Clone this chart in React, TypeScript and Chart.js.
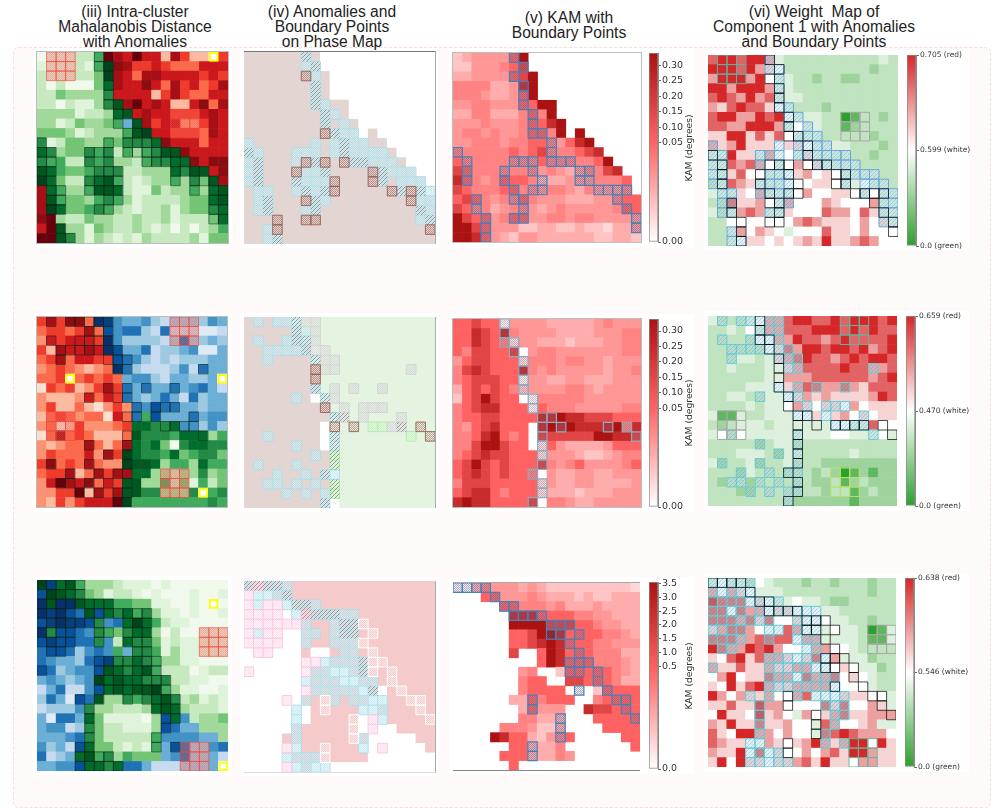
import { useEffect, useRef } from 'react';
import { Chart, registerables } from 'chart.js';
Chart.register(...registerables);

// Level codes: digits = Greens, lowercase = Reds, uppercase = Blues
const mahal1 = ["0111225jhgjggchfccaf","11112159ihffgfeeeggg","21112249hgehhggggfgf","20200047hggigehfgefh","22433336ggggcfhfeegg","220211368hjghgccgieh","3333122378ghggfffghg","331243345E8hfggddfhg","444312333589ggfffehg","6124433546667igggegg","763446562535688igggg","6552265633256677igii","875445666223337688gi","9742267852123353648h","h7533588721142335378","h8544356531222234478","h9744565321223134467","ij322433223223122247","gj833143223212020235","jj863132121322223144"];
const kam1 = ["23444469            ","22444567            ","334444679           ","555533489           ","555433469           ","44554446699         ","33553335659         ","444544456689        ","455454456659 9      ","445554556654689     ","5555556567555678    ","65555555565555569   ","765555555454345578  ","8654566653334445556 ","7655566554554354445 ","67654556544433344566","76553455434544444566","97664566445545544444","99764442233223221334","99864324433333322332"];
const weight1 = ["89989974333333333343","99989765333333333233","79997954433233223333","99799974433333333333","89879784443333333333","76898865433323333333","89977989544433013323","88779997454433123333","66996868544433333233","76796665665444433323","44966475546444433233","44878754575644443333","44685544567565444433","34876444555665445443","44465744457556654544","33866754755576555744","43478744655587758644","33555555578766657564","33475765455586657555","33456656567696678755"];
const mask1 = ["......b.............","......ab............","......ca............",".......b............",".......b............",".......ba...........","........ba..........","........b.a.........","........cbaa........","a......a.abaa.......","ba...aaa.abaaaa.....","ab...acbc.cbbaaa....","ab...caab....cbaaa..","ab...baaac...cb.aaa.",".aa..ababc.....cbcba",".ab...cba........caa",".ab...ab..........ba","...c..cc..........ab","..ac...............c","..ab................"];
const clusters1 = [[0, 1], [6, 14]];
const yellow1 = [[0, 18]];

const mahal2 = ["fhfiieJIFEEFDCDDDDFE","effefheHFGGDCGCCCBBC","dgfgggfJFDDDDCDGDDED","fchgghgJHEEGCDDEFBBE","efheggffHGFDCDCDDDEE","defedcdeJGDCCCDFCGEE","eefaefefeEFFDCEEDDEa","bfefcdfhfGEGEEGEFGEC","dcccdgegfGEDEGECGDEE","dfccecbdfdGFHGGEEDEE","cefedeebgeG5HEEEGEFF","debcfdddef77667FFDFD","behefeccce8666577735","dcdeeheceh7674067766","dfeeegdhf97665745664","fiefehedd98873553755","effhcehfhh7733233634","dgjhgiegf88335241524","ddffjchfh88663336a56","dcfdfgggj95555555565"];
const kam2 = ["66766044443333345444","66876854444333344455","66876514433323334455","6577667 455444444455","46776661555455443444","57876668545444443445","56777660443344333444","36767652444455434444","2679766 055555444444","56788666065554444455","56677666688988777666","54678666 89898888958","55689656 77777799887","55799766 16433334666","56787766614443223455","67976766675456444456","678767665 4334433444","57776666614334433334","67886566613332333444","898866667 5543344444"];
const weight2 = ["43334577899889899989","33435477888999898988","33333557798878988889","33333356879989989789","33344346789887898998","33433344678888988778","33333344777888888789","33334445678877876888","33443344567676666798","33334344576566575666","41143344455656756566","32344434444445544855","45354444444445544454","33333234433333333333","33344432443333343333","42334233433322222222","33324333333232012122","32332333333223123222","33322333333323312322","33333333322222212222"];
const mask2 = [".a.aabaa............",".....baa............",".a..abba............","..aaaabaa...........","..a....baa..........",".......caa.......a..",".......c............",".......b.a.a..a.....",".....a..ba..........","........c.a.aaa.....",".........bb.a...a...",".........c.c.dddb.c.","..a......b.......a.c",".....a...b..........",".......a.b..........",".a...a...b..........","...a..a.ba..........","..aa.a.a.b..........","....a.a.ab..........","........b..........."];
const phaseEdge2 = [5, 6, 6, 7, 7, 8, 8, 8, 8, 9, 9, 9, 9, 9, 9, 9, 9, 9, 9, 10];
const clusters2 = [[0, 14], [10, 1], [16, 13]];
const yellow2 = [[6, 3], [6, 19], [18, 17]];

const mahal3 = ["9I785333211101000000","H9876431221010001001","J8JJ8777554411001000","JIJHG8H7675631101001","HIJIIH6FG79752110000","J6HHGF65467730200111","HIHHGG6F276641211111","GHHGDFGF5E6651311111","GFEEDGHI667653311000","HGDEFFH8767852220122","EFEDEF97877666221100","CEGCCFH7878895311001","DGEBHG83365678623121","CDDDF633222378732221","EBGGE74111103H7F2334","EFFCD64221113HGEE333","EEEFG64222225FFFFEE3","FDECH74421215EHGDDFG","GCDE785635444EFGDDEC","EEFFH7767GGECCCDDDEA"];
const kam3 = ["00354443432222222221","   66444543332322333","     665554533343333","      88866665544333","      99997776654433","      66799866665543","      66789866655444","      7  69866655533","         69866655543","       45  266666543","       566  77666533","       56666 0 26666","      3365666  56666","       36444  877666","       55333   66666","     5554223    6666","    986632456     66","      663335       6","     66633354       ","      6             "];
const weight3 = ["45443543332332333233","75765444333333333233","98885654454432233333","88587756655544333333","88878685565554433233","67887555875545443014","88877888857744443114","98779897555775543333","65896877656857444233","76686676677555654423","57956687758778565433","65968976677775555433","97576675578555666554","66866977555586855764","59665967547567866777","76966866755487556744","86599775755488987775","87665576567976799596","76695856557578699766","69596656678696657766"];
const mask3 = ["bbbba...............","aaaab...............","aaaaabba............","aaaa.abbbbaa........","aaaaaaa..abbc.......","aaaa..aa.abb.c......","aaaa..a..aaac.......",".aa.......aa.c......","......aaaaaabcc.....","a.....aaaaaabc.c....","......aaaaaaaa.c....","......aaaaaaab..c...","....a.a.ca.aaaa..cc.",".....a..c...aaa...c.",".....a.....c.aa....c",".....a.....c.a......",".....a.....ca.......","....aa..c...a.a.....","....aaaac...........","....aaaaa..........."];
const clusters3 = [[5, 17], [17, 15]];
const yellow3 = [[2, 18], [19, 19]];

const kamTicks12 = [0, 0.05, 0.1, 0.15, 0.2, 0.25, 0.3];
const kamLabels12 = ["0.00", "0.05", "0.10", "0.15", "0.20", "0.25", "0.30"];
const kamTicks3 = [0, 0.5, 1, 1.5, 2, 2.5, 3, 3.5];
const kamLabels3 = ["0.0", "0.5", "1.0", "1.5", "2.0", "2.5", "3.0", "3.5"];
const weightLabels1 = ["0.0 (green)", "0.599 (white)", "0.705 (red)"];
const weightLabels2 = ["0.0 (green)", "0.470 (white)", "0.659 (red)"];
const weightLabels3 = ["0.0 (green)", "0.546 (white)", "0.638 (red)"];

const GREENS = ["#f0f9ec", "#e0f3db", "#c7e9c0", "#a1d99b", "#74c476", "#41ab5d", "#238b45", "#006d2c", "#00571f", "#00441b"];
const REDS = ["#fff5f0", "#fee0d2", "#fcbba1", "#fc9272", "#fb6a4a", "#ef3b2c", "#cb181d", "#a50f15", "#8b0d12", "#67000d"];
const BLUES = ["#f7fbff", "#deebf7", "#c6dbef", "#9ecae1", "#6baed6", "#4292c6", "#2171b5", "#08519c", "#08407f", "#08306b"];
const KAM_LEVELS = [0.05, 0.13, 0.2, 0.28, 0.35, 0.42, 0.53, 0.7, 0.85, 1];
const WEIGHT_LEVELS = [0, 0.12, 0.27, 0.35, 0.42, 0.5, 0.6, 0.72, 0.86, 1];
const KAM_STOPS: [number, string][] = [[0, "#ffffff"], [0.53, "#ff6262"], [1, "#ab1212"]];
const WEIGHT_STOPS: [number, string][] = [[0, "#2ca02c"], [0.5, "#ffffff"], [1, "#d62728"]];

const hex = (s: string) => [1, 3, 5].map((i) => parseInt(s.slice(i, i + 2), 16));
function ramp(stops: [number, string][], t: number) {
  for (let i = 1; i < stops.length; i++) {
    if (t <= stops[i][0]) {
      const f = (t - stops[i - 1][0]) / (stops[i][0] - stops[i - 1][0]);
      const a = hex(stops[i - 1][1]), b = hex(stops[i][1]);
      return `rgb(${a.map((v, k) => Math.round(v + (b[k] - v) * f)).join(",")})`;
    }
  }
  return stops[stops.length - 1][1];
}
function family(ch: string) {
  if (ch >= "0" && ch <= "9") return "green";
  if (ch >= "a" && ch <= "j") return "red";
  return "blue";
}
function mahalColor(ch: string) {
  const f = family(ch);
  if (f === "green") return GREENS[+ch];
  if (f === "red") return REDS[ch.charCodeAt(0) - 97];
  return BLUES[ch.charCodeAt(0) - 65];
}
function pattern(color: string, kind: "dots" | "hatch") {
  const c = document.createElement("canvas");
  const n = kind === "dots" ? 2 : 4;
  c.width = c.height = n;
  const g = c.getContext("2d")!;
  g.fillStyle = color;
  if (kind === "dots") { g.fillRect(0, 0, 1, 1); g.fillRect(1, 1, 1, 1); }
  else for (let i = 0; i < 4; i++) g.fillRect(i, 3 - i, 1, 1);
  return g.createPattern(c, "repeat");
}

type Cell = [number, number];
type Layer = { cells: Cell[]; fill: any; border?: string; bw?: number; inset?: number; bleed?: number };

function allCells(rows: string[], pick: (ch: string) => boolean) {
  const out: Cell[] = [];
  rows.forEach((row, r) => { for (let c = 0; c < row.length; c++) if (pick(row[c])) out.push([r, c]); });
  return out;
}
const block = (list: number[][]) => list.flatMap(([r, c]) => {
  const out: Cell[] = [];
  for (let i = 0; i < 3; i++) for (let j = 0; j < 3; j++) out.push([r + i, c + j]);
  return out;
});
const isAnomaly = (m: string) => m === "a" || m === "b" || m === "d";

function mahalLayers(rows: string[], mask: string[], clusters: number[][], yellow: number[][]): Layer[] {
  const base = allCells(rows, () => true);
  return [
    { cells: base, fill: base.map(([r, c]) => mahalColor(rows[r][c])), bleed: 0.3 },
    { cells: allCells(mask, isAnomaly), fill: "rgba(0,0,0,0)", border: "rgba(8,35,22,0.52)", bw: 1 },
    { cells: block(clusters), fill: "rgba(245,90,80,0.22)", border: "rgba(238,70,60,0.62)", bw: 1 },
    { cells: block(clusters), fill: pattern("rgba(245,90,80,0.3)", "dots") },
    { cells: yellow as Cell[], fill: "#ffffff", border: "#ffff10", bw: 2, inset: 1 },
  ];
}

function phaseLayers(rows: string[], mask: string[], mahal: string[], baseFill: (r: number, c: number) => string, tints: Record<string, [string, string]>, brown: [string, string]): Layer[] {
  const base = allCells(rows, () => true);
  const layers: Layer[] = [{ cells: base, fill: base.map(([r, c]) => baseFill(r, c)), bleed: 0.3 }];
  for (const f of Object.keys(tints)) {
    const cells = allCells(mask, isAnomaly).filter(([r, c]) => family(mahal[r][c]) === f);
    layers.push({ cells, fill: tints[f][0], border: tints[f][1], bw: 1 });
    layers.push({ cells, fill: pattern("rgba(255,255,255,0.4)", "dots") });
  }
  layers.push({ cells: allCells(mask, (m) => m === "b"), fill: pattern("rgba(105,105,105,0.6)", "hatch") });
  const bc = allCells(mask, (m) => m === "c");
  layers.push({ cells: bc, fill: pattern(brown[0], "dots"), border: brown[1], bw: 1 });
  return layers;
}

function kamLayers(rows: string[], mask: string[], border: string, dots: string): Layer[] {
  const base = allCells(rows, (ch) => ch !== " ");
  return [
    { cells: base, fill: base.map(([r, c]) => ramp(KAM_STOPS, KAM_LEVELS[+rows[r][c]])), bleed: 0.3 },
    { cells: allCells(mask, (m) => m === "b" || m === "c"), fill: pattern(dots, "dots"), border, bw: 1.2 },
  ];
}

function weightLayers(rows: string[], mask: string[], clusters: number[][], clusterColors: string[], tint: string): Layer[] {
  const base = allCells(rows, () => true);
  const layers: Layer[] = [{ cells: base, fill: base.map(([r, c]) => ramp(WEIGHT_STOPS, WEIGHT_LEVELS[+rows[r][c]])), bleed: 0.3 }];
  const anomalies = allCells(mask, isAnomaly);
  layers.push({ cells: anomalies, fill: "rgba(160,212,232,0.32)", border: tint, bw: 1 });
  layers.push({ cells: anomalies, fill: pattern("rgba(80,125,160,0.28)", "hatch") });
  layers.push({ cells: allCells(mask, (m) => m === "b" || m === "c" || m === "d"), fill: "rgba(0,0,0,0)", border: "rgba(0,0,0,0.7)", bw: 1 });
  clusters.forEach((c, i) => layers.push({ cells: block([c]), fill: "rgba(0,0,0,0)", border: clusterColors[i], bw: 1 }));
  return layers;
}

const phase1 = (r: number, c: number) => (kam1[r][c] === " " ? "#ffffff" : "#e2d5d2");
const phase2 = (r: number, c: number) => (kam2[r][c] === " " ? "#ffffff" : c < phaseEdge2[r] ? "#e2d5d2" : "#e4f4e1");
const phase3 = (r: number, c: number) => (kam3[r][c] === " " ? "#ffffff" : "#f4caca");

function Heat({ x, y, w, h, build, frame }: { x: number; y: number; w: number; h: number; build: () => Layer[]; frame?: any }) {
  const ref = useRef<HTMLCanvasElement>(null);
  useEffect(() => {
    const size = (w + h) / 40;
    const datasets = build().reverse().map((l) => ({
      data: l.cells.map(([r, c]) => ({ x: c + 0.5, y: r + 0.5 })),
      pointStyle: "rect",
      pointRadius: (size / 2 + (l.bleed || 0) - (l.inset || 0)) * Math.SQRT2,
      pointBackgroundColor: l.fill,
      pointBorderColor: l.border || "rgba(0,0,0,0)",
      pointBorderWidth: l.bw || 0,
    }));
    const chart = new Chart(ref.current!, {
      type: "scatter",
      data: { datasets } as any,
      options: {
        animation: false, responsive: false, events: [],
        layout: { padding: 0, autoPadding: false },
        plugins: { legend: { display: false }, tooltip: { enabled: false } },
        scales: {
          x: { type: "linear", min: 0, max: 20, display: false },
          y: { type: "linear", min: 0, max: 20, reverse: true, display: false },
        },
      },
    });
    return () => chart.destroy();
  }, []);
  return <canvas ref={ref} width={w} height={h} style={{ position: "absolute", left: x, top: y, width: w, height: h, boxSizing: "content-box", ...frame }} />;
}

function Bar({ x, y, w, h, stops, positions, labels, font, title }: { x: number; y: number; w: number; h: number; stops: [number, string][]; positions: number[]; labels: string[]; font: number; title?: boolean }) {
  const ref = useRef<HTMLCanvasElement>(null);
  const total = w + 70, pad = 8;
  useEffect(() => {
    const chart = new Chart(ref.current!, {
      type: "bar",
      data: {
        labels: ["scale"],
        datasets: [{
          data: [1], barPercentage: 1, categoryPercentage: 1, borderWidth: 1, borderColor: "#8a8a8a", borderSkipped: false,
          backgroundColor: (c: any) => {
            const a = c.chart.chartArea;
            if (!a) return "#fff";
            const g = c.chart.ctx.createLinearGradient(0, a.bottom, 0, a.top);
            stops.forEach(([t, col]) => g.addColorStop(t, col));
            return g;
          },
        }],
      },
      options: {
        animation: false, responsive: false, events: [],
        layout: { padding: { top: pad, bottom: pad, left: 0, right: 0 }, autoPadding: false },
        plugins: { legend: { display: false }, tooltip: { enabled: false } },
        scales: {
          x: { display: false },
          y: {
            position: "right", min: 0, max: 1,
            border: { display: true, color: "#8a8a8a" },
            grid: { drawOnChartArea: false, drawTicks: true, tickLength: 3, color: "#666" },
            ticks: {
              autoSkip: false, padding: 1, color: "#333", font: { family: "DejaVu Sans", size: font },
              callback: (_v: any, i: number) => labels[i],
            },
            afterBuildTicks: (s: any) => { s.ticks = positions.map((value) => ({ value })); },
            afterFit: (s: any) => { s.width = total - w; },
          },
        },
      },
    } as any);
    return () => chart.destroy();
  }, []);
  return (
    <>
      <canvas ref={ref} width={total} height={h + 2 * pad} style={{ position: "absolute", left: x, top: y - pad, width: total, height: h + 2 * pad }} />
      {title && <div style={{ position: "absolute", left: x + 40 - 50, top: y + 0.5 * h - 6, width: 100, textAlign: "center", transform: "rotate(-90deg)", font: "9.2px/12px 'DejaVu Sans'", color: "#333" }}>KAM (degrees)</div>}
    </>
  );
}

const kamPos12 = (v: number) => (v <= 0.05 ? (0.526 * v) / 0.05 : 0.526 + (0.474 * (v - 0.05)) / 0.289);
const kamPos3 = (v: number) => (v <= 0.5 ? (0.549 * v) / 0.5 : 0.549 + (0.451 * (v - 0.5)) / 3.06);
const weightPos = [0, 0.5, 1];

const TITLES: [number, number, string[]][] = [
  [135, 4, ["(iii) Intra-cluster", "Mahalanobis Distance", "with Anomalies"]],
  [332, 4, ["(iv) Anomalies and", "Boundary Points", "on Phase Map"]],
  [569, 10, ["(v) KAM with", "Boundary Points"]],
  [814, 4, ["(vi) Weight  Map of", "Component 1 with Anomalies", "and Boundary Points"]],
];
const BACKS = [
  [33, 48, 199, 200], [240, 48, 199, 200], [449, 48, 245, 200], [704, 50, 265, 200],
  [33, 313, 199, 199], [240, 313, 199, 199], [449, 314, 245, 198], [704, 311, 265, 200],
  [33, 576, 199, 199], [240, 577, 199, 199], [449, 577, 245, 197], [704, 573, 265, 199],
];

const blueTint: [string, string] = ["rgba(165,222,235,0.55)", "#a9dde8"];
const grayTint: [string, string] = ["rgba(205,210,205,0.65)", "#cdd2cd"];
const greenTint: [string, string] = ["rgba(180,240,170,0.5)", "#b0e8a8"];
const pinkTint: [string, string] = ["rgba(255,200,228,0.5)", "#f8c4dc"];

export default function App() {
  const f1 = { outline: "1px solid #bdbdbd" };
  const strong = "rgba(70,100,150,0.5)", soft = "rgba(90,100,130,0.38)";
  return (
    <div style={{ position: "absolute", left: 0, top: 0, width: 997, height: 808, overflow: "hidden", background: "#fff" }}>
      <div style={{ position: "absolute", left: 13, top: 47, width: 976, height: 759, border: "1px dashed #fbdcd8", borderRadius: 6, background: "#fffafa" }} />
      {BACKS.map(([x, y, w, h], i) => <div key={i} style={{ position: "absolute", left: x, top: y, width: w, height: h, background: "#fff" }} />)}
      {TITLES.map(([cx, top, lines]) => lines.map((t, i) => (
        <div key={t} style={{ position: "absolute", left: cx - 130, width: 260, top: top + i * 15, textAlign: "center", whiteSpace: "pre", font: "15.6px/15px 'Liberation Sans'", color: "#222" }}>{t}</div>
      )))}

      <Heat x={37} y={52} w={191} h={191} frame={f1} build={() => mahalLayers(mahal1, mask1, clusters1, yellow1)} />
      <Heat x={244} y={52} w={191} h={192} frame={{ borderTop: "1px solid #777", borderRight: "1px solid #aaa", marginTop: -1 }} build={() => phaseLayers(mahal1, mask1, mahal1, phase1, { green: blueTint, red: blueTint, blue: blueTint }, ["rgba(140,70,60,0.5)", "rgba(150,90,80,0.85)"])} />
      <Heat x={453} y={53} w={188} h={189} frame={f1} build={() => kamLayers(kam1, mask1, "#4a80b8", strong)} />
      <Bar x={649} y={53} w={9} h={189} stops={KAM_STOPS} positions={kamTicks12.map(kamPos12)} labels={kamLabels12} font={9.5} title />
      <Heat x={708} y={55} w={190} h={191} build={() => weightLayers(weight1, mask1, clusters1, ["#5fb0a0", "#a8a8a8"], "#6aa8d8")} />
      <Bar x={907} y={55} w={9} h={191} stops={WEIGHT_STOPS} positions={weightPos} labels={weightLabels1} font={7.5} />

      <Heat x={37} y={317} w={190} h={190} frame={f1} build={() => mahalLayers(mahal2, mask2, clusters2, yellow2)} />
      <Heat x={244} y={317} w={191} h={191} frame={{ borderRight: "1px solid #aaa" }} build={() => phaseLayers(kam2, mask2, mahal2, phase2, { green: greenTint, red: blueTint, blue: grayTint }, ["rgba(140,70,60,0.5)", "rgba(150,90,80,0.85)"])} />
      <Heat x={453} y={319} w={188} h={188} frame={f1} build={() => kamLayers(kam2, mask2, "#8fa9bd", soft)} />
      <Bar x={649} y={319} w={9} h={188} stops={KAM_STOPS} positions={kamTicks12.map(kamPos12)} labels={kamLabels12} font={9.5} title />
      <Heat x={708} y={316} w={189} h={190} build={() => weightLayers(weight2, mask2, clusters2, ["#6ab09a", "#a8a8a8", "#b8e070"], "#6cd0d4")} />
      <Bar x={906} y={316} w={9} h={190} stops={WEIGHT_STOPS} positions={weightPos} labels={weightLabels2} font={7.5} />

      <Heat x={37} y={580} w={191} h={191} build={() => mahalLayers(mahal3, mask3, clusters3, yellow3)} />
      <Heat x={244} y={581} w={191} h={191} frame={{ borderRight: "1px solid #aaa", borderBottom: "1px solid #ddd" }} build={() => phaseLayers(kam3, mask3, mahal3, phase3, { green: blueTint, red: blueTint, blue: pinkTint }, ["rgba(255,255,255,0.6)", "rgba(255,255,255,0.95)"])} />
      <Heat x={453} y={582} w={187} h={187} frame={{ borderBottom: "1px solid #888", borderTop: "1px solid #aaa" }} build={() => kamLayers(kam3, mask3, "#4a80b8", strong)} />
      <Bar x={649} y={582} w={9} h={187} stops={KAM_STOPS} positions={kamTicks3.map(kamPos3)} labels={kamLabels3} font={9.5} title />
      <Heat x={708} y={578} w={188} h={189} build={() => weightLayers(weight3, mask3, clusters3, ["#a8a8a8", "#6ab09a"], "#66d0d8")} />
      <Bar x={905} y={578} w={9} h={189} stops={WEIGHT_STOPS} positions={weightPos} labels={weightLabels3} font={7.5} />
    </div>
  );
}
